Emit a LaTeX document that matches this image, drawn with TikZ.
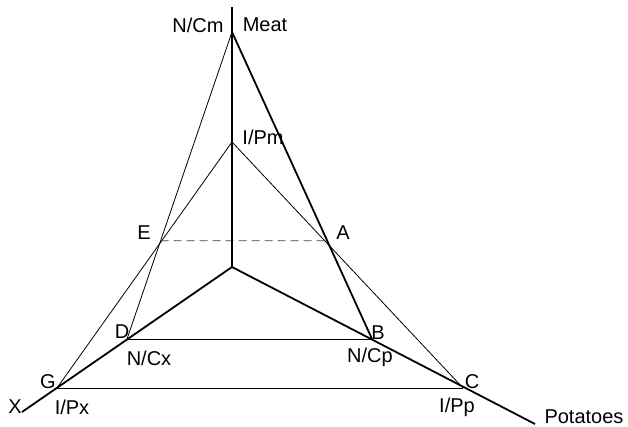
\documentclass[tikz,border=0pt]{standalone}
\usepackage{fontspec}
\setmainfont{Liberation Sans}
\begin{document}
\begin{tikzpicture}[x=1pt,y=-1pt,
  axis/.style={line width=1.8pt},
  thin line/.style={line width=0.8pt},
  dash line/.style={line width=0.9pt, dash pattern=on 8pt off 5pt, black!75},
  lbl/.style={font=\fontsize{20}{24}\selectfont, inner sep=0pt}]
\useasboundingbox (0,0) rectangle (628,427);
% key points
\coordinate (O) at (232,267);
\coordinate (Top) at (232,7);
\coordinate (M) at (232,32);
\coordinate (IPm) at (232,142);
\coordinate (Xend) at (22,412);
\coordinate (Pend) at (535,424);
\coordinate (D) at (127,339);
\coordinate (B) at (372,339);
\coordinate (G) at (57,388);
\coordinate (C) at (463,388);
\coordinate (hl) at (0,240.7);
\coordinate (hr) at (628,240.7);
\coordinate (E) at (intersection of M--D and hl--hr);
\coordinate (A) at (intersection of M--B and hl--hr);
% thin lines
\draw[thin line] (M) -- (D);
\draw[thin line] (IPm) -- (G);
\draw[thin line] (IPm) -- (C);
\draw[thin line] (D) -- (B);
\draw[thin line] (G) -- (C);
\draw[dash line] (E) -- (A);
% axes
\draw[axis] (Top) -- (O);
\draw[axis] (O) -- (Xend);
\draw[axis] (O) -- (Pend);
\draw[axis] (M) -- (B);
% labels
\node[lbl] (lNCm) at (198,25) {N/Cm};
\node[lbl] (lMeat) at (265,25) {Meat};
\node[lbl] (lIPm) at (263,137) {I/Pm};
\node[lbl] (lE) at (144,233) {E};
\node[lbl] (lA) at (343,233) {A};
\node[lbl] (lD) at (122,332) {D};
\node[lbl] (lB) at (378,333) {B};
\node[lbl] (lNCx) at (149,358) {N/Cx};
\node[lbl] (lNCp) at (370,357) {N/Cp};
\node[lbl] (lG) at (48,382) {G};
\node[lbl] (lC) at (472,382) {C};
\node[lbl] (lX) at (15,407) {X};
\node[lbl] (lIPx) at (72,407) {I/Px};
\node[lbl] (lIPp) at (457,407) {I/Pp};
\node[lbl] (lPot) at (584,417) {Potatoes};
\end{tikzpicture}
\end{document}
